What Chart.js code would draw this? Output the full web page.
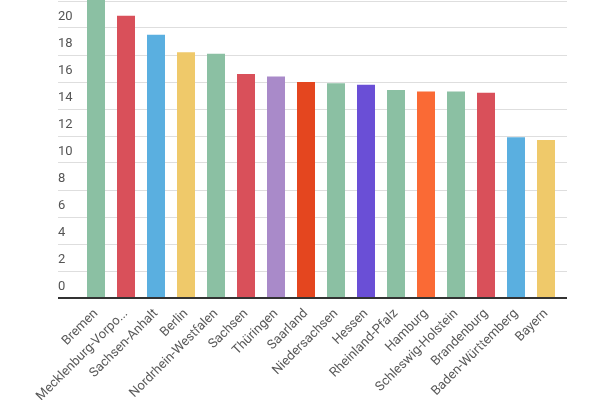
<!DOCTYPE html>
<html>
<head>
<meta charset="utf-8">
<script src="https://cdn.jsdelivr.net/npm/chart.js@4/dist/chart.umd.min.js"></script>
<style>
  html, body { margin: 0; padding: 0; background: #fff; overflow: hidden; }
  body { width: 600px; height: 400px; position: relative; }
  #wrap { position: absolute; left: 0; top: -40px; width: 600px; height: 520px; }
</style>
</head>
<body>
<div id="wrap"><canvas id="chart"></canvas></div>
<script>
// Bundeslaender, sorted by value
var states = ['Bremen', 'Mecklenburg-Vorpo...', 'Sachsen-Anhalt', 'Berlin', 'Nordrhein-Westfalen',
    'Sachsen', 'Thüringen', 'Saarland', 'Niedersachsen', 'Hessen', 'Rheinland-Pfalz',
    'Hamburg', 'Schleswig-Holstein', 'Brandenburg', 'Baden-Württemberg', 'Bayern'];
var values = [22.7, 20.9, 19.5, 18.2, 18.1, 16.6, 16.4, 16.0, 15.9, 15.8, 15.4, 15.3, 15.3, 15.2, 11.9, 11.7];
var barColors = ['#8bc0a3', '#d9505a', '#5aafe0', '#efc96a', '#8bc0a3', '#d9505a', '#a98ac9', '#e4461f',
    '#8bc0a3', '#6a4fd6', '#8bc0a3', '#fa6a35', '#8bc0a3', '#d9505a', '#5aafe0', '#efc96a'];
var yMin = 0, yMax = 24, yStep = 2;

var gridCol = function(c) { return c.tick && c.tick.value === 0 ? '#333333' : '#dedede'; };
var gridW = function(c) { return c.tick && c.tick.value === 0 ? 2 : 1; };
var tickFont = { family: 'Roboto', size: 13 };

var ctx = document.getElementById('chart').getContext('2d');
new Chart(ctx, {
    type: 'bar',
    data: {
        labels: states,
        datasets: [{
            data: values,
            backgroundColor: barColors,
            borderWidth: 0,
            categoryPercentage: 1,
            barPercentage: 0.6
        }]
    },
    options: {
        responsive: true,
        maintainAspectRatio: false,
        animation: false,
        layout: { padding: { left: 58, right: 33, top: 14, bottom: 0 } },
        plugins: { legend: { display: false }, tooltip: { enabled: false } },
        scales: {
            x: {
                grid: { display: false },
                border: { display: false },
                ticks: {
                    autoSkip: false, minRotation: 45, maxRotation: 45,
                    color: '#5a5a5a', font: tickFont, padding: 0
                },
                afterFit: function(s) { s.height = 182; }
            },
            y: {
                min: yMin, max: yMax,
                border: { display: false },
                grid: { color: gridCol, lineWidth: gridW, tickColor: gridCol, tickLength: 23 },
                ticks: {
                    stepSize: yStep, crossAlign: 'far', labelOffset: -11,
                    color: '#555', font: tickFont
                },
                afterFit: function(s) { s.width = 23; }
            },
            y2: {
                position: 'right',
                min: yMin, max: yMax,
                border: { display: false },
                grid: { drawOnChartArea: false, color: gridCol, lineWidth: gridW, tickColor: gridCol, tickLength: 6 },
                ticks: { stepSize: yStep, display: false },
                afterFit: function(s) { s.width = 6; }
            }
        }
    }
});
</script>
</body>
</html>
